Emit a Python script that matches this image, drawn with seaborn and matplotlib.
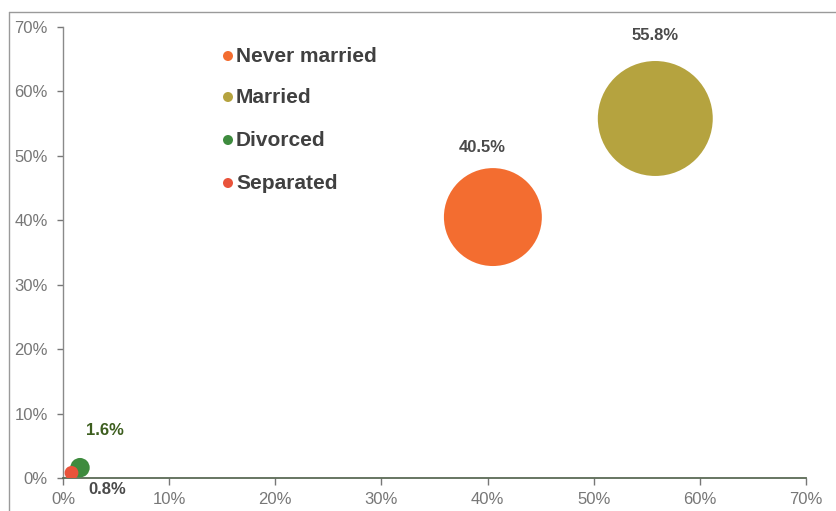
import matplotlib
matplotlib.use("Agg")
import matplotlib.pyplot as plt
import matplotlib.patches as mpatches
import seaborn as sns
import pandas as pd
import numpy as np

# Marital status shares (percent); each bubble sits at (share, share) and its area scales with the share
status = ["Never married", "Married", "Divorced", "Separated"]
share = [40.5, 55.8, 1.6, 0.8]
colors = ["#F36D30", "#B5A33F", "#3E8B3E", "#E9533B"]
label_colors = ["#4a4a4a", "#4a4a4a", "#3d5e1f", "#4a4a4a"]
label_offsets = [(-8, 50), (0, 60), (18, 27), (26, -12)]  # points, relative to bubble centre

ticks = [0, 10, 20, 30, 40, 50, 60, 70]
tick_labels = [f"{t}%" for t in ticks]

df = pd.DataFrame({"status": status, "x": share, "y": share, "share": share})

sns.set_style("white")
plt.rcParams["font.family"] = ["Liberation Sans", "DejaVu Sans"]

W, H = 836, 511
fig = plt.figure(figsize=(W / 100, H / 100), dpi=100)
ax = fig.add_axes([63 / W, (H - 478) / H, (806 - 63) / W, (478 - 27) / H])

# area proportional to share: 55.8% -> ~83pt diameter
max_area = 6850
sns.scatterplot(data=df, x="x", y="y", hue="status", palette=dict(zip(status, colors)),
                size="share", sizes=(0, max_area), size_norm=(0, max(share)),
                edgecolor="none", linewidth=0, alpha=1, legend=False, ax=ax, zorder=3)

for s, v, c, off in zip(status, share, label_colors, label_offsets):
    ax.annotate(f"{v}%", (v, v), xytext=off, textcoords="offset points",
                ha="center", va="center", fontsize=12, fontweight="bold", color=c)

ax.set_xlim(0, 70)
ax.set_ylim(0, 70)
ax.set_xticks(ticks)
ax.set_xticklabels(tick_labels)
ax.set_yticks(ticks)
ax.set_yticklabels(tick_labels)
ax.set_xlabel("")
ax.set_ylabel("")
ax.tick_params(axis="both", colors="#777777", labelsize=12, length=4, width=1, direction="out")
ax.tick_params(axis="x", pad=5, length=5)
ax.tick_params(axis="y", pad=7)
ax.xaxis.set_ticks_position("bottom")
ax.yaxis.set_ticks_position("left")
for side in ["top", "right"]:
    ax.spines[side].set_visible(False)
ax.spines["left"].set_color("#8a8a8a")
ax.spines["bottom"].set_color("#5a6a55")
ax.spines["left"].set_linewidth(1)
ax.spines["bottom"].set_linewidth(1.3)
ax.patch.set_alpha(0)

# legend: coloured dots with bold labels
leg_y = [56, 97, 140, 183]
for i, (s, c) in enumerate(zip(status, colors)):
    y = (H - leg_y[i]) / H
    fig.patches.append(mpatches.Ellipse((228 / W, y), 10 / W, 10 / H, transform=fig.transFigure,
                                        facecolor=c, edgecolor="none", figure=fig))
    fig.text(236 / W, y, s, fontsize=15, fontweight="bold", color="#404040", va="center", ha="left")

# outer chart frame
fig.add_artist(plt.Line2D([9 / W, 9 / W], [0, (H - 12) / H], color="#9a9a9a", lw=1, transform=fig.transFigure))
fig.add_artist(plt.Line2D([9 / W, 1], [(H - 12) / H, (H - 12) / H], color="#9a9a9a", lw=1, transform=fig.transFigure))

fig.savefig("out.png", dpi=100)
